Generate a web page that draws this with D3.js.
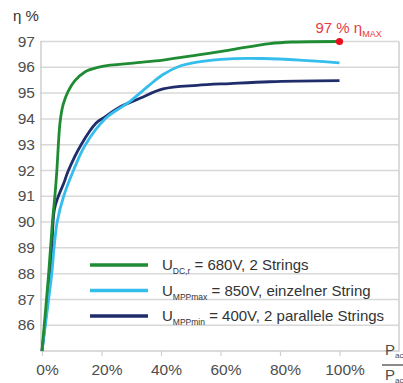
<!DOCTYPE html>
<html>
<head>
<meta charset="utf-8">
<script src="https://cdn.jsdelivr.net/npm/d3@7"></script>
<style>
  body { margin: 0; background: #fff; }
  svg { display: block; font-family: "Liberation Sans", Arial, sans-serif; }
</style>
</head>
<body>
<svg id="chart" width="403" height="383"></svg>
<script>
// load in percent of rated power, efficiency in percent
var greenData = [
  [0, 85], [2.3, 88.1], [3.5, 90], [4.4, 91.1], [5, 92], [5.5, 93], [6.1, 93.9],
  [7.1, 94.55], [8.7, 95.05], [11, 95.47], [14.4, 95.82], [18.8, 96.0],
  [23, 96.08], [32, 96.18], [40.7, 96.28], [52, 96.47], [63, 96.67],
  [76.6, 96.92], [84, 96.98], [100, 97]
];
var lightBlueData = [
  [0, 85], [3.4, 88.14], [4.0, 88.95], [5.1, 90.0], [7.2, 90.97], [10.5, 91.98],
  [14.5, 92.98], [21.5, 94.03], [26.2, 94.42], [29.6, 94.68], [32.9, 95.0],
  [36, 95.3], [40.7, 95.72], [46.4, 96.05], [52.1, 96.2], [63.2, 96.33],
  [74.3, 96.34], [86.7, 96.28], [100, 96.17]
];
var navyData = [
  [0, 85], [3.0, 88.3], [4.1, 90.45], [5.4, 90.97], [7.3, 91.5], [8.8, 91.98],
  [13.1, 92.99], [18.2, 93.84], [20.8, 94.05], [26.2, 94.46], [32.9, 94.8],
  [40.7, 95.16], [52.1, 95.3], [63.2, 95.37], [76.6, 95.44], [100, 95.48]
];
var yTicks = [86, 87, 88, 89, 90, 91, 92, 93, 94, 95, 96, 97];
var xTicks = [0, 20, 40, 60, 80, 100];
var maxPoint = [100, 97];

var legendItems = [
  { sub: "DC,r", text: " = 680V, 2 Strings", color: "#1f8c34", data: greenData },
  { sub: "MPPmax", text: " = 850V, einzelner String", color: "#35bdec", data: lightBlueData },
  { sub: "MPPmin", text: " = 400V, 2 parallele Strings", color: "#1f2d6b", data: navyData }
];

var svg = d3.select("#chart");

var plot = { left: 41, right: 399, top: 41.5, bottom: 351 };

var xScale = d3.scaleLinear().domain([0, 100]).range([42, 339.5]);
var yScale = d3.scaleLinear().domain([85, 97]).range([plot.bottom, plot.top]);

// horizontal grid
svg.append("g")
  .selectAll("line")
  .data(yTicks)
  .enter()
  .append("line")
  .attr("x1", plot.left - 1)
  .attr("x2", plot.right)
  .attr("y1", function (d) { return yScale(d); })
  .attr("y2", function (d) { return yScale(d); })
  .attr("stroke", "#d8d8d8")
  .attr("stroke-width", 1.5);

// frame: left, right, bottom
svg.append("path")
  .attr("d", "M" + plot.left + "," + plot.top + "V" + plot.bottom + "H" + plot.right + "V" + plot.top)
  .attr("fill", "none")
  .attr("stroke", "#d0d0d0")
  .attr("stroke-width", 1.5);

// y labels
var yAxis = d3.axisLeft(yScale).tickValues(yTicks).tickSize(0).tickPadding(6);
var yg = svg.append("g")
  .attr("transform", "translate(" + plot.left + ",0)")
  .call(yAxis);
yg.select(".domain").remove();
yg.selectAll("text")
  .attr("font-size", 15.5)
  .attr("font-family", "Liberation Sans, Arial, sans-serif")
  .attr("fill", "#4d4d4d")
  .attr("dy", "0.3em");

// x axis ticks + labels
var xAxis = d3.axisBottom(xScale)
  .tickValues(xTicks)
  .tickSize(5)
  .tickPadding(8)
  .tickFormat(function (d) { return d + "%"; });
var xg = svg.append("g")
  .attr("transform", "translate(0," + plot.bottom + ")")
  .call(xAxis);
xg.select(".domain").remove();
xg.selectAll("line").attr("stroke", "#d0d0d0").attr("stroke-width", 1.2);
xg.selectAll("text")
  .attr("font-size", 15.5)
  .attr("font-family", "Liberation Sans, Arial, sans-serif")
  .attr("fill", "#4d4d4d")
  .attr("dx", 5);

// curves
var line = d3.line()
  .x(function (d) { return xScale(d[0]); })
  .y(function (d) { return yScale(d[1]); })
  .curve(d3.curveCatmullRom.alpha(0.5));

svg.append("g")
  .selectAll("path")
  .data(legendItems.slice().reverse())
  .enter()
  .append("path")
  .attr("d", function (d) { return line(d.data); })
  .attr("fill", "none")
  .attr("stroke", function (d) { return d.color; })
  .attr("stroke-width", 2.8)
  .attr("stroke-linejoin", "round");

// max marker
svg.append("circle")
  .attr("cx", xScale(maxPoint[0]))
  .attr("cy", yScale(maxPoint[1]))
  .attr("r", 3.6)
  .attr("fill", "#e8101c");

var maxLabel = svg.append("text")
  .attr("x", xScale(maxPoint[0]) - 24)
  .attr("y", yScale(maxPoint[1]) - 9)
  .attr("font-size", 15)
  .attr("fill", "#e83a44");
maxLabel.append("tspan").text(maxPoint[1] + " % η");
maxLabel.append("tspan").attr("font-size", 9).attr("dy", 4).text("MAX");

// axis titles
svg.append("text")
  .attr("x", 13)
  .attr("y", 21)
  .attr("font-size", 15)
  .attr("fill", "#333")
  .text("η %");

var px = svg.append("g").attr("fill", "#4d4d4d");
px.append("text").attr("x", 385).attr("y", 355).attr("font-size", 15).text("P")
  .append("tspan").attr("font-size", 8).attr("dy", 3).text("ac");
px.append("line").attr("x1", 382).attr("x2", 410).attr("y1", 365).attr("y2", 365)
  .attr("stroke", "#4d4d4d").attr("stroke-width", 1.3);
px.append("text").attr("x", 385).attr("y", 380).attr("font-size", 15).text("P")
  .append("tspan").attr("font-size", 8).attr("dy", 3).text("ac,r");

// legend
var legend = svg.append("g")
  .selectAll("g")
  .data(legendItems)
  .enter()
  .append("g")
  .attr("transform", function (d, i) { return "translate(90," + (265 + i * 25.5) + ")"; });

legend.append("line")
  .attr("x1", 0)
  .attr("x2", 58)
  .attr("stroke", function (d) { return d.color; })
  .attr("stroke-width", 3.5);

var lt = legend.append("text")
  .attr("x", 72)
  .attr("y", 5)
  .attr("font-size", 15)
  .attr("fill", "#333");
lt.append("tspan").text("U");
lt.append("tspan").attr("font-size", 8.5).attr("dy", 4).text(function (d) { return d.sub; });
lt.append("tspan").attr("dy", -4).text(function (d) { return d.text; });
</script>
</body>
</html>
